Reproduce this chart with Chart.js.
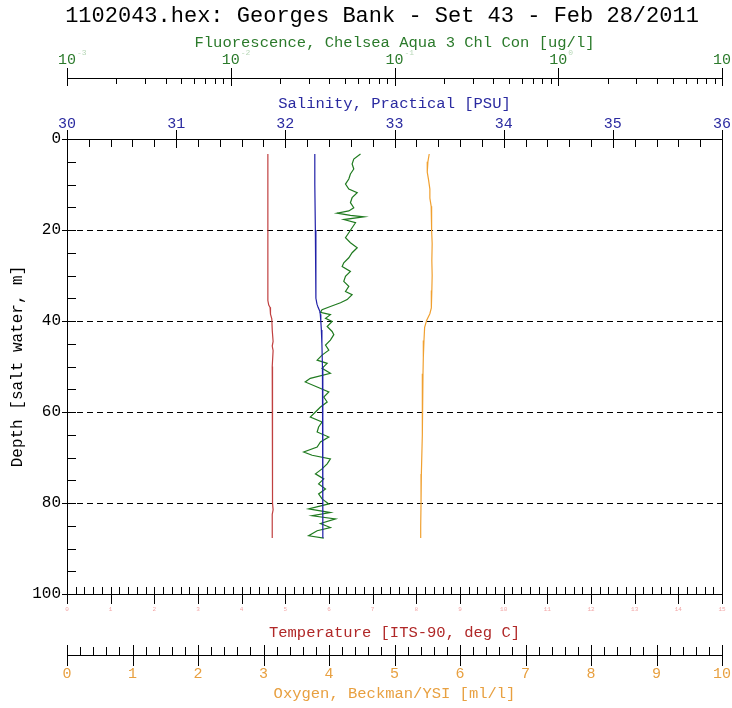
<!DOCTYPE html>
<html>
<head>
<meta charset="utf-8">
<title>Georges Bank - Set 43</title>
<script src="https://cdn.jsdelivr.net/npm/chart.js@4.4.1/dist/chart.umd.min.js"></script>
<style>
  body { margin: 0; background: #fff; }
  #profile { display: block; }
</style>
</head>
<body>
<canvas id="profile" width="732" height="708"></canvas>
<script>
// values (depth in m)
var tempDepth = [3.3, 10, 20, 30, 35.5, 36.5, 37.0, 38.5, 39.5, 42, 44.5, 45.5, 46.5, 50, 60, 70, 80, 81.5, 82.5, 84, 87.7];
var tempValues = [4.60, 4.60, 4.60, 4.60, 4.60, 4.62, 4.65, 4.66, 4.69, 4.70, 4.72, 4.70, 4.72, 4.70, 4.71, 4.71, 4.70, 4.72, 4.70, 4.70, 4.70];

var salDepth = [3.3, 10, 20, 30, 35, 36.3, 37.0, 37.8, 38.5, 40, 42, 45, 50, 60, 70, 80, 87.7];
var salValues = [32.27, 32.27, 32.275, 32.28, 32.28, 32.29, 32.30, 32.315, 32.32, 32.325, 32.33, 32.335, 32.34, 32.342, 32.343, 32.344, 32.345];

var fluoDepth = [3.3, 4.4, 5.5, 6.6, 7.7, 8.8, 9.9, 11.0, 11.8, 12.9, 14.0, 15.1, 15.8, 16.3, 16.8, 17.1, 17.7, 18.4, 19.5,
  20.6, 21.7, 22.8, 23.9, 25.0, 26.1, 27.2, 28.0, 29.1, 30.2, 31.3, 32.4, 33.5, 34.2, 35.3, 36.0, 36.8, 37.5, 38.1, 38.6, 39.4,
  40.1, 41.2, 42.3, 43.0, 44.2, 45.3, 46.4, 47.5, 48.6, 49.3, 50.4, 51.5, 52.6, 53.4, 54.5, 55.6, 56.7, 57.8, 58.9,
  60.0, 61.1, 62.2, 63.3, 64.4, 65.5, 66.6, 67.7, 68.8, 69.5, 70.3, 71.4, 72.5, 73.6, 74.7, 75.8, 76.9, 78.0, 79.1,
  80.2, 81.3, 82.1, 82.8, 83.5, 84.5, 85.4, 86.1, 87.2, 87.7];
var fluoValues = [0.0620, 0.0564, 0.0551, 0.0564, 0.0538, 0.0526, 0.0502, 0.0526, 0.0592, 0.0551, 0.0538, 0.0564, 0.0526, 0.0446, 0.0538, 0.0650, 0.0490, 0.0578, 0.0551,
  0.0526, 0.0502, 0.0538, 0.0592, 0.0551, 0.0526, 0.0490, 0.0479, 0.0538, 0.0502, 0.0490, 0.0526, 0.0502, 0.0551, 0.0514, 0.0468, 0.0406, 0.0361, 0.0353, 0.0406, 0.0379,
  0.0416, 0.0388, 0.0416, 0.0426, 0.0406, 0.0379, 0.0397, 0.0361, 0.0337, 0.0388, 0.0361, 0.0406, 0.0306, 0.0285, 0.0337, 0.0397, 0.0370, 0.0388, 0.0353,
  0.0329, 0.0306, 0.0361, 0.0344, 0.0337, 0.0397, 0.0353, 0.0337, 0.0279, 0.0314, 0.0406, 0.0388, 0.0361, 0.0329, 0.0370, 0.0344, 0.0379, 0.0344, 0.0361,
  0.0397, 0.0299, 0.0406, 0.0314, 0.0436, 0.0353, 0.0406, 0.0337, 0.0299, 0.0370];

var oxyDepth = [3.3, 5, 7.3, 9, 11, 13, 14.8, 17, 18.4, 20, 23, 26.7, 30, 33.3, 35.5, 37.1, 38.4, 39.9, 41.4, 44.3, 48, 51.6, 55, 59.1, 65, 73.6, 80, 85, 87.7];
var oxyValues = [5.53, 5.51, 5.50, 5.52, 5.54, 5.54, 5.56, 5.56, 5.57, 5.57, 5.575, 5.57, 5.575, 5.57, 5.565, 5.56, 5.54, 5.49, 5.46, 5.45, 5.44, 5.435, 5.43, 5.425, 5.42, 5.41, 5.405, 5.40, 5.40];

// axis ticks
var depthTicks = [0, 20, 40, 60, 80, 100];
var gridDepths = [20, 40, 60, 80];
var salTicks = [30, 31, 32, 33, 34, 35, 36];
var fluoTicks = [0.001, 0.01, 0.1, 1, 10];
var fluoExp = ['-3', '-2', '-1', '0', '1'];
var tempTicks = [0, 1, 2, 3, 4, 5, 6, 7, 8, 9, 10, 11, 12, 13, 14, 15];
var oxyTicks = [0, 1, 2, 3, 4, 5, 6, 7, 8, 9, 10];

var MONO = '"Liberation Mono", "DejaVu Sans Mono", monospace';
var GREEN = '#2b7a2b', BLUE = '#2a2aa0', RED = '#b02828', ORANGE = '#e8a040';

function pairs(depths, values) {
  return depths.map(function(d, i) { return {x: values[i], y: d}; });
}

function vline(ctx, x, y1, y2) {
  x = Math.round(x) + 0.5;
  ctx.beginPath(); ctx.moveTo(x, y1); ctx.lineTo(x, y2); ctx.stroke();
}
function hline(ctx, x1, x2, y) {
  y = Math.round(y) + 0.5;
  ctx.beginPath(); ctx.moveTo(x1, y); ctx.lineTo(x2, y); ctx.stroke();
}
function text(ctx, s, x, y, size, color, align) {
  ctx.font = size + 'px ' + MONO;
  ctx.fillStyle = color;
  ctx.textAlign = align || 'center';
  ctx.textBaseline = 'middle';
  ctx.fillText(s, x, y);
}

var profileAxes = {
  id: 'profileAxes',
  beforeDatasetsDraw: function(chart) {
    var ctx = chart.ctx, a = chart.chartArea, ys = chart.scales.y;
    ctx.save();
    ctx.strokeStyle = '#000';
    ctx.lineWidth = 1;
    ctx.setLineDash([6, 4]);
    gridDepths.forEach(function(d) { hline(ctx, a.left, a.right, ys.getPixelForValue(d)); });
    ctx.restore();
  },
  afterDraw: function(chart) {
    var ctx = chart.ctx, a = chart.chartArea, s = chart.scales;
    var i, v, px;
    ctx.save();
    ctx.strokeStyle = '#000';
    ctx.lineWidth = 1;

    // frame
    hline(ctx, a.left, a.right + 1, a.top);
    hline(ctx, a.left, a.right + 1, a.bottom);
    vline(ctx, a.left, a.top, a.bottom);
    vline(ctx, a.right, a.top, a.bottom);

    text(ctx, '1102043.hex: Georges Bank - Set 43 - Feb 28/2011', 382, 16, 22, '#000');

    // fluorescence (log) axis
    text(ctx, 'Fluorescence, Chelsea Aqua 3 Chl Con [ug/l]', 394.5, 43, 15.5, GREEN);
    hline(ctx, a.left, a.right + 1, 78);
    fluoTicks.forEach(function(t, k) {
      px = s.xFluo.getPixelForValue(t);
      vline(ctx, px, 68, 86);
      text(ctx, '10', px, 60, 15, GREEN);
      text(ctx, fluoExp[k], px + 10, 53, 8, '#b8d8b8', 'left');
      if (k < fluoTicks.length - 1) {
        for (i = 2; i <= 9; i++) vline(ctx, s.xFluo.getPixelForValue(t * i), 78, 84);
      }
    });

    // salinity axis on top of plot
    text(ctx, 'Salinity, Practical [PSU]', 394.5, 104, 15.5, BLUE);
    salTicks.forEach(function(t) {
      px = s.xSal.getPixelForValue(t);
      vline(ctx, px, 130, 148);
      text(ctx, String(t), px, 124, 15, BLUE);
    });
    for (v = 30; v < 36; v += 0.2) vline(ctx, s.xSal.getPixelForValue(v), a.top, a.top + 8);

    // depth axis
    for (v = 0; v <= 100; v += 5) hline(ctx, a.left, a.left + 9, s.y.getPixelForValue(v));
    depthTicks.forEach(function(t) {
      var py = s.y.getPixelForValue(t);
      hline(ctx, a.left - 5, a.left + 9, py);
      text(ctx, String(t), 61, py, 16, '#000', 'right');
    });
    ctx.save();
    ctx.translate(18, (a.top + a.bottom) / 2);
    ctx.rotate(-Math.PI / 2);
    text(ctx, 'Depth [salt water, m]', 0, 0, 16, '#000');
    ctx.restore();

    // temperature axis on bottom of plot
    for (v = 0; v < 15; v += 0.2) vline(ctx, s.xTemp.getPixelForValue(v), a.bottom - 7, a.bottom);
    tempTicks.forEach(function(t) {
      px = s.xTemp.getPixelForValue(t);
      vline(ctx, px, a.bottom - 7, a.bottom + 10);
      text(ctx, String(t), px, 609, 6, '#f2a8a8');
    });
    text(ctx, 'Temperature [ITS-90, deg C]', 394.5, 633, 15.5, RED);

    // oxygen axis
    hline(ctx, a.left, a.right + 1, 655);
    for (v = 0; v < 10; v += 0.2) vline(ctx, s.xOxy.getPixelForValue(v), 647, 655);
    oxyTicks.forEach(function(t) {
      px = s.xOxy.getPixelForValue(t);
      vline(ctx, px, 645, 666);
      text(ctx, String(t), px, 674, 15, ORANGE);
    });
    text(ctx, 'Oxygen, Beckman/YSI [ml/l]', 394.5, 694, 15.5, ORANGE);

    ctx.restore();
  }
};

function series(label, depths, values, axis, color) {
  return {
    label: label,
    data: pairs(depths, values),
    xAxisID: axis,
    yAxisID: 'y',
    showLine: true,
    borderColor: color,
    borderWidth: 1.2,
    pointRadius: 0,
    fill: false,
    tension: 0
  };
}

var chart = new Chart(document.getElementById('profile'), {
  type: 'scatter',
  data: {
    datasets: [
      series('Temperature', tempDepth, tempValues, 'xTemp', '#c04040'),
      series('Salinity', salDepth, salValues, 'xSal', '#2020a8'),
      series('Fluorescence', fluoDepth, fluoValues, 'xFluo', '#1f7a1f'),
      series('Oxygen', oxyDepth, oxyValues, 'xOxy', '#f0a030')
    ]
  },
  options: {
    responsive: false,
    animation: false,
    events: [],
    layout: { padding: { left: 67, right: 10, top: 139, bottom: 114 } },
    plugins: { legend: { display: false }, tooltip: { enabled: false }, title: { display: false } },
    scales: {
      y: { type: 'linear', min: 0, max: 100, reverse: true, display: false },
      xSal: { type: 'linear', axis: 'x', min: 30, max: 36, display: false },
      xFluo: { type: 'logarithmic', axis: 'x', min: 0.001, max: 10, display: false },
      xTemp: { type: 'linear', axis: 'x', min: 0, max: 15, display: false },
      xOxy: { type: 'linear', axis: 'x', min: 0, max: 10, display: false }
    }
  },
  plugins: [profileAxes]
});
</script>
</body>
</html>
